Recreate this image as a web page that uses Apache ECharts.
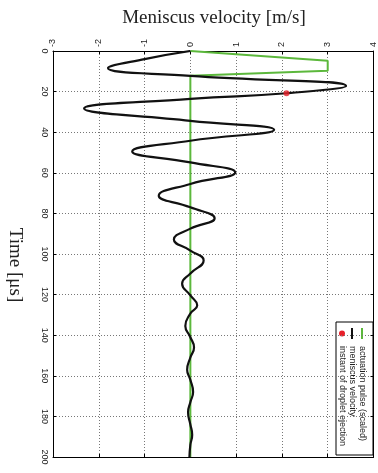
<!DOCTYPE html>
<html>
<head>
<meta charset="utf-8">
<script src="https://cdn.jsdelivr.net/npm/echarts@6/dist/echarts.min.js"></script>
<style>
  html, body { margin: 0; padding: 0; background: #fff; }
  #chart { width: 378px; height: 473px; }
</style>
</head>
<body>
<div id="chart"></div>
<script>
// meniscus velocity (m/s) vs time (us)
const meniscusTime = [0, 4, 8.4, 12.3, 17.2, 20.8, 23.6, 28.3, 34.4, 38.8, 44.2, 49.5, 54.9, 59.8, 65.5, 71.3, 77, 82.4, 87.5, 92.9, 98.3, 103.2, 109.6, 114.6, 120.4, 125.3, 129.3, 135.5, 141, 146, 151, 157, 162, 168, 173, 178, 184, 189, 194, 200];
const meniscusVelocity = [0, -1.0, -1.8, 0, 3.4, 2.1, 0, -2.32, 0, 1.83, 0, -1.27, 0, 0.98, 0, -0.69, 0, 0.53, 0, -0.36, 0, 0.29, 0, -0.18, 0, 0.15, 0, -0.11, 0, 0.08, 0, -0.07, 0, 0.06, 0, -0.05, 0, 0.04, 0, -0.02];
// actuation pulse (scaled)
const pulseTime = [0, 4.8, 9.7, 12.2, 200];
const pulseVelocity = [0, 3, 3, 0, 0];
// droplet ejection instant
const ejectionTime = [20.8];
const ejectionVelocity = [2.1];
const legendNames = ["actuation pulse (scaled)", "meniscus velocity", "instant of droplet ejection"];
const legendColors = ["#5cb83c", "#111111", "#e8202a"];

const zip = (xs, ys) => xs.map((x, i) => [x, ys[i]]);

const chart = echarts.init(document.getElementById("chart"), null, { renderer: "canvas" });

const gridLine = { show: true, lineStyle: { color: "#777", type: [1, 2], width: 1 } };
const axisLine = { show: true, onZero: false, lineStyle: { color: "#000", width: 1 } };
const tickIn = { show: true, inside: true, length: 3, lineStyle: { color: "#000" } };
const labelFont = { fontFamily: "Liberation Sans", fontSize: 9, color: "#222" };

// legend drawn rotated like the rest of the figure
const legendChildren = [
  {
    type: "rect",
    shape: { x: 0, y: 0, width: 133, height: 37 },
    style: { fill: "#fff", stroke: "#000", lineWidth: 1 },
  },
];
legendNames.forEach((name, i) => {
  const y = 11 + i * 10;
  if (i < 2) {
    legendChildren.push({
      type: "line",
      shape: { x1: 6, y1: y, x2: 17, y2: y },
      style: { stroke: legendColors[i], lineWidth: 2 },
    });
  } else {
    legendChildren.push({
      type: "circle",
      shape: { cx: 11.5, cy: y, r: 3 },
      style: { fill: legendColors[i] },
    });
  }
  legendChildren.push({
    type: "text",
    x: 24,
    y: y,
    style: {
      text: name,
      fill: "#222",
      font: "9px 'Liberation Sans'",
      textAlign: "left",
      textVerticalAlign: "middle",
    },
  });
});

const option = {
  backgroundColor: "#fff",
  animation: false,
  grid: { left: 53, right: 4, top: 51, bottom: 16 },
  xAxis: [
    {
      type: "value",
      position: "top",
      min: -3,
      max: 4,
      interval: 1,
      axisLine,
      axisTick: tickIn,
      axisLabel: { ...labelFont, rotate: -90, margin: 4 },
      splitLine: gridLine,
    },
    {
      type: "value",
      position: "bottom",
      min: -3,
      max: 4,
      interval: 1,
      axisLine,
      axisTick: tickIn,
      axisLabel: { show: false },
      splitLine: { show: false },
    },
  ],
  yAxis: [
    {
      type: "value",
      position: "left",
      inverse: true,
      min: 0,
      max: 200,
      interval: 20,
      axisLine,
      axisTick: tickIn,
      axisLabel: { ...labelFont, rotate: -90, margin: 4 },
      splitLine: gridLine,
    },
    {
      type: "value",
      position: "right",
      inverse: true,
      min: 0,
      max: 200,
      interval: 20,
      axisLine,
      axisTick: tickIn,
      axisLabel: { show: false },
      splitLine: { show: false },
    },
  ],
  series: [
    {
      name: legendNames[0],
      type: "line",
      data: zip(pulseVelocity, pulseTime),
      showSymbol: false,
      lineStyle: { color: legendColors[0], width: 2 },
      z: 2,
    },
    {
      name: legendNames[1],
      type: "line",
      data: zip(meniscusVelocity, meniscusTime),
      smooth: 0.5,
      showSymbol: false,
      lineStyle: { color: legendColors[1], width: 2.2 },
      z: 3,
    },
    {
      name: legendNames[2],
      type: "scatter",
      data: zip(ejectionVelocity, ejectionTime),
      symbolSize: 6,
      itemStyle: { color: legendColors[2] },
      z: 4,
    },
  ],
  graphic: [
    {
      type: "text",
      x: 214,
      y: 18,
      style: {
        text: "Meniscus velocity [m/s]",
        fill: "#222",
        font: "19px 'Liberation Serif'",
        textAlign: "center",
        textVerticalAlign: "middle",
      },
    },
    {
      type: "text",
      x: 15,
      y: 265,
      rotation: -Math.PI / 2,
      style: {
        text: "Time [\u03bcs]",
        fill: "#222",
        font: "19px 'Liberation Serif'",
        textAlign: "center",
        textVerticalAlign: "middle",
      },
    },
    {
      type: "group",
      x: 373,
      y: 322,
      rotation: -Math.PI / 2,
      children: legendChildren,
    },
  ],
};

chart.setOption(option);
</script>
</body>
</html>
